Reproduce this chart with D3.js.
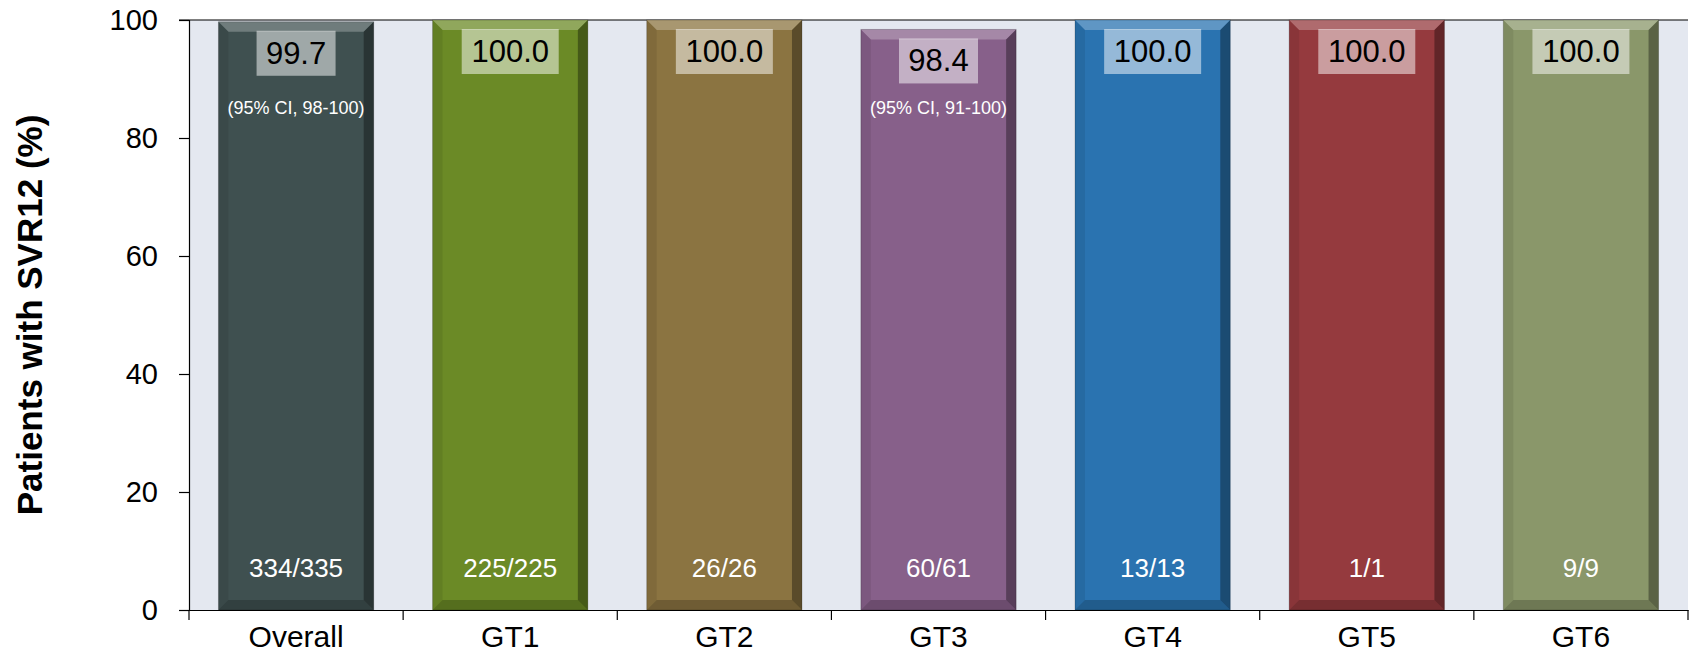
<!DOCTYPE html>
<html><head><meta charset="utf-8">
<script src="https://cdn.jsdelivr.net/npm/d3@7/dist/d3.min.js"></script>
<style>body{margin:0;background:#fff;} text{font-family:"Liberation Sans",Arial,sans-serif;}</style>
</head><body><svg id="c" width="1694" height="654"></svg>
<script>
const categories = ["Overall","GT1","GT2","GT3","GT4","GT5","GT6"];
const values = [99.7,100.0,100.0,98.4,100.0,100.0,100.0];
const counts = ["334/335","225/225","26/26","60/61","13/13","1/1","9/9"];
const ciLabels = ["(95% CI, 98-100)","","","(95% CI, 91-100)","","",""];
const colors = ["#3f5050","#6b8a26","#8b7441","#87608a","#2a73b0","#953a3e","#8a976a"];
const yTicks = [0,20,40,60,80,100];

const svg = d3.select("#c");
const m = {l:189, r:1694-1688, t:20, b:654-610};
const W = 1694, H = 654;
const x = d3.scaleBand().domain(categories).range([m.l, W-m.r]).paddingInner(0.275).paddingOuter(0.1375);
const y = d3.scaleLinear().domain([0,100]).range([H-m.b, m.t]);

// plot background
svg.append("rect").attr("x", m.l).attr("y", y(100)).attr("width", W-m.r-m.l).attr("height", y(0)-y(100)).attr("fill", "#e4e8f0");
// top line
svg.append("line").attr("x1", m.l-10).attr("x2", W-m.r).attr("y1", y(100)).attr("y2", y(100)).attr("stroke","#000").attr("stroke-width",1.2);

const data = categories.map((c,i)=>({c, v:values[i], n:counts[i], ci:ciLabels[i], col:colors[i]}));
const g = svg.append("g");
const bv = 10;
data.forEach(d=>{
  const x0 = x(d.c), x1 = x0 + x.bandwidth(), y0 = y(d.v), y1 = y(0);
  const bg = g.append("g");
  bg.append("rect").attr("x",x0).attr("y",y0).attr("width",x1-x0).attr("height",y1-y0).attr("fill",d.col);
  // bevels
  bg.append("polygon").attr("points",[[x0,y0],[x1,y0],[x1-bv,y0+bv],[x0+bv,y0+bv]].join(" ")).attr("fill","#fff").attr("opacity",0.25);
  bg.append("polygon").attr("points",[[x1,y0],[x1,y1],[x1-bv,y1-bv],[x1-bv,y0+bv]].join(" ")).attr("fill","#000").attr("opacity",0.35);
  bg.append("polygon").attr("points",[[x0,y1],[x1,y1],[x1-bv,y1-bv],[x0+bv,y1-bv]].join(" ")).attr("fill","#000").attr("opacity",0.2);
  bg.append("polygon").attr("points",[[x0,y0],[x0,y1],[x0+bv,y1-bv],[x0+bv,y0+bv]].join(" ")).attr("fill","#000").attr("opacity",0.08);
  bg.append("rect").attr("x",x0).attr("y",y0).attr("width",x1-x0).attr("height",y1-y0).attr("fill","none").attr("stroke","#000").attr("stroke-opacity",0.2).attr("stroke-width",1);

  const cx = x0 + x.bandwidth()/2;
  const label = d.v.toFixed(1);
  const tw = label.length === 5 ? 97 : 79;
  bg.append("rect").attr("x",cx-tw/2).attr("y",y0+9).attr("width",tw).attr("height",45).attr("fill","#fff").attr("opacity",0.5);
  bg.append("text").attr("x",cx).attr("y",y0+9+33).attr("text-anchor","middle").attr("font-size",31).attr("fill","#000").text(label);
  if (d.ci) bg.append("text").attr("x",cx).attr("y",114).attr("text-anchor","middle").attr("font-size",18).attr("fill","#fff").text(d.ci);
  bg.append("text").attr("x",cx).attr("y",577).attr("text-anchor","middle").attr("font-size",26).attr("fill","#fff").text(d.n);
});

// axes
const ya = svg.append("g").attr("transform",`translate(${m.l},0)`).call(d3.axisLeft(y).tickValues(yTicks).tickSize(10).tickPadding(21));
ya.select(".domain").attr("stroke","#000").attr("stroke-width",1.2);
ya.selectAll(".tick line").attr("stroke","#000").attr("stroke-width",1.2);
ya.selectAll("text").attr("font-size",29).attr("fill","#000").style("font-family","Liberation Sans, Arial, sans-serif");

const xa = svg.append("g").attr("transform",`translate(0,${y(0)})`).call(d3.axisBottom(x).tickSize(0).tickPadding(0));
xa.select(".domain").attr("stroke","#000").attr("stroke-width",1.2);
xa.selectAll("text").attr("font-size",30).attr("fill","#000").attr("y",37).attr("dy",null).style("font-family","Liberation Sans, Arial, sans-serif");
// boundary ticks between categories
const bounds = categories.map(c=>x(c) - x.step()*x.paddingInner()/2).concat([W-m.r]);
svg.append("g").selectAll("line").data(bounds).join("line")
  .attr("x1",d=>d).attr("x2",d=>d).attr("y1",y(0)).attr("y2",y(0)+10).attr("stroke","#000").attr("stroke-width",1.2);

svg.append("text").attr("transform",`translate(42,${(y(0)+y(100))/2}) rotate(-90)`).attr("text-anchor","middle")
  .attr("font-size",35).attr("font-weight","bold").attr("fill","#000").text("Patients with SVR12 (%)");
</script></body></html>
